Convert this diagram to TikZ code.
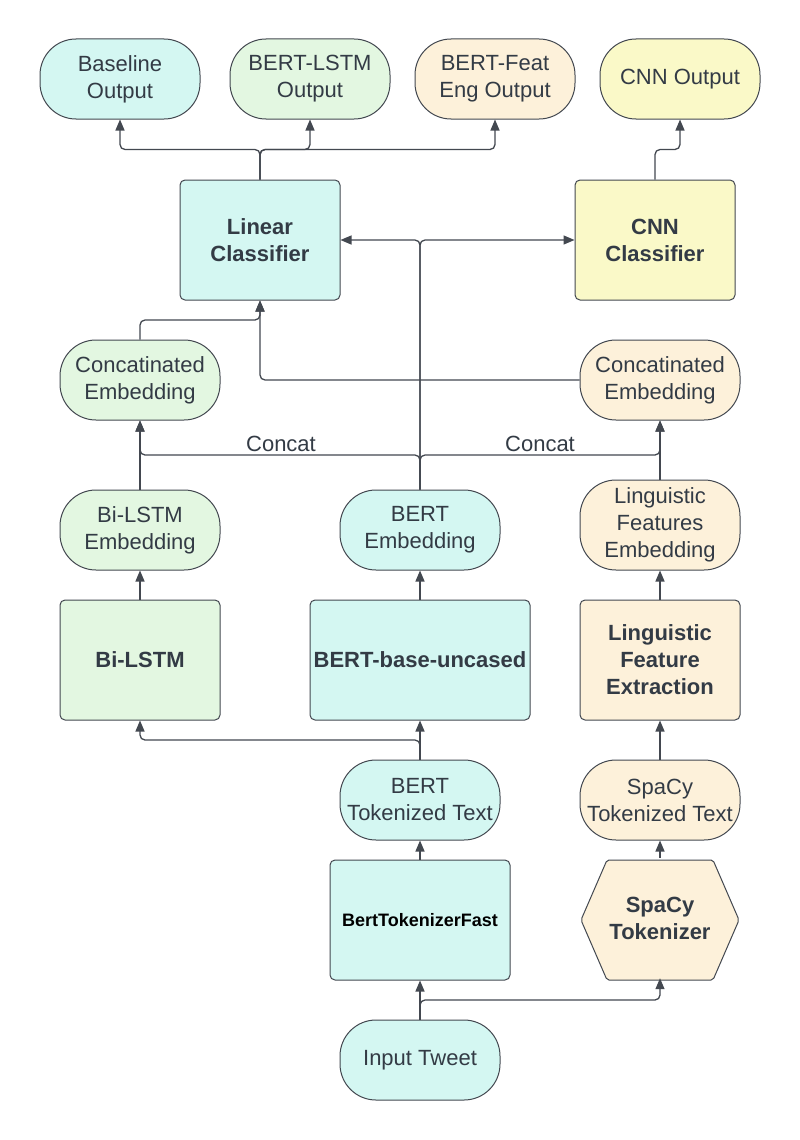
\documentclass[tikz,border=0pt]{standalone}
\usepackage{fontspec}
\setmainfont{Liberation Sans}
\usetikzlibrary{arrows.meta,calc}
\definecolor{cteal}{HTML}{D4F7F2}
\definecolor{cgreen}{HTML}{E3F7E1}
\definecolor{corange}{HTML}{FDF1DA}
\definecolor{cyellow}{HTML}{FAF9C8}
\definecolor{cline}{HTML}{434850}
\definecolor{ctext}{HTML}{333B45}
\begin{document}
\begin{tikzpicture}[x=1pt,y=-1pt,
 pill/.style={draw=cline, line width=1pt, rounded corners=36pt, minimum width=160pt, minimum height=80pt, inner sep=0pt, align=center, text=ctext, font=\fontsize{22}{27}\selectfont},
 nbox/.style={draw=cline, line width=1pt, rounded corners=5pt, minimum width=160pt, minimum height=120pt, inner sep=0pt, align=center, text=ctext, font=\fontsize{22}{27}\selectfont\bfseries},
 conn/.style={draw=cline, line width=1.3pt, rounded corners=5pt, -{Triangle[length=11pt,width=9pt]}},
 lbl/.style={text=ctext, font=\fontsize{22}{27}\selectfont, inner sep=0pt}]
\useasboundingbox[fill=white] (0,0) rectangle (800,1140);

% top outputs
\node[pill,fill=cteal] (bout) at (120,79) {Baseline\\Output};
\node[pill,fill=cgreen] (lout) at (310,79) {BERT-LSTM\\Output};
\node[pill,fill=corange] (fout) at (495,79) {BERT-Feat\\Eng Output};
\node[pill,fill=cyellow] (cout) at (680,79) {CNN Output};

% classifiers
\node[nbox,fill=cteal] (lin) at (260,240) {Linear\\Classifier};
\node[nbox,fill=cyellow] (cnn) at (655,240) {CNN\\Classifier};

% concatenated embeddings
\node[pill,fill=cgreen] (cc1) at (140,380) {Concatinated\\Embedding};
\node[pill,fill=corange] (cc2) at (660,380) {Concatinated\\Embedding};

% embeddings
\node[pill,fill=cgreen] (ble) at (140,530) {Bi-LSTM\\Embedding};
\node[pill,fill=cteal] (be) at (420,530) {BERT\\Embedding};
\node[pill,fill=corange,minimum height=90pt] (lfe) at (660,525) {Linguistic\\Features\\Embedding};

% models
\node[nbox,fill=cgreen] (bl) at (140,660) {Bi-LSTM};
\node[nbox,fill=cteal,minimum width=220pt] (bb) at (420,660) {BERT-base-uncased};
\node[nbox,fill=corange] (lf) at (660,660) {Linguistic\\Feature\\Extraction};

% tokenized text
\node[pill,fill=cteal] (bt) at (420,800) {BERT\\Tokenized Text};
\node[pill,fill=corange] (st) at (660,800) {SpaCy\\Tokenized Text};

% tokenizers
\node[nbox,fill=cteal,minimum width=180pt,text=black,font=\fontsize{18}{22}\selectfont\bfseries] (btf) at (420,920) {BertTokenizerFast};
\filldraw[fill=corange,draw=cline,line width=1pt,rounded corners=2pt] (581,920) -- (607,860) -- (713,860) -- (739,920) -- (713,980) -- (607,980) -- cycle;
\node[minimum width=158pt,minimum height=120pt,inner sep=0pt,align=center,text=ctext,font=\fontsize{22}{27}\selectfont\bfseries] (spt) at (660,918) {SpaCy\\Tokenizer};

% input
\node[pill,fill=cteal] (in) at (420,1060) {Input Tweet};

% connectors
\draw[conn] (lin.north) -- ++(0,-30) -| (bout.south);
\draw[conn] (lin.north) -- ++(0,-30) -| (lout.south);
\draw[conn] (lin.north) -- ++(0,-30) -| (fout.south);
\draw[conn] (cnn.north) -- ++(0,-30) -| (cout.south);
\draw[conn] (be.north) |- (lin.east);
\draw[conn] (be.north) |- (cnn.west);
\draw[conn] (cc1.north) |- (260,320) -- (lin.south);
\draw[conn] (cc2.west) -| (lin.south);
\draw[conn] (be.north) |- (140,455) -- (cc1.south);
\draw[conn] (be.north) |- (660,455) -- (cc2.south);
\draw[conn] (ble.north) -- (cc1.south);
\draw[conn] (lfe.north) -- (cc2.south);
\node[lbl] (cat1) at (281,444) {Concat};
\node[lbl] (cat2) at (540,444) {Concat};
\draw[conn] (bl.north) -- (ble.south);
\draw[conn] (bb.north) -- (be.south);
\draw[conn] (lf.north) -- (lfe.south);
\draw[conn] (bt.north) -- (bb.south);
\draw[conn] (bt.north) |- (140,740) -- (bl.south);
\draw[conn] (st.north) -- (lf.south);
\draw[conn] (btf.north) -- (bt.south);
\draw[conn] (spt.north) -- (st.south);
\draw[conn] (in.north) -- (btf.south);
\draw[conn] (in.north) |- (660,1000) -- (spt.south);
\end{tikzpicture}
\end{document}
